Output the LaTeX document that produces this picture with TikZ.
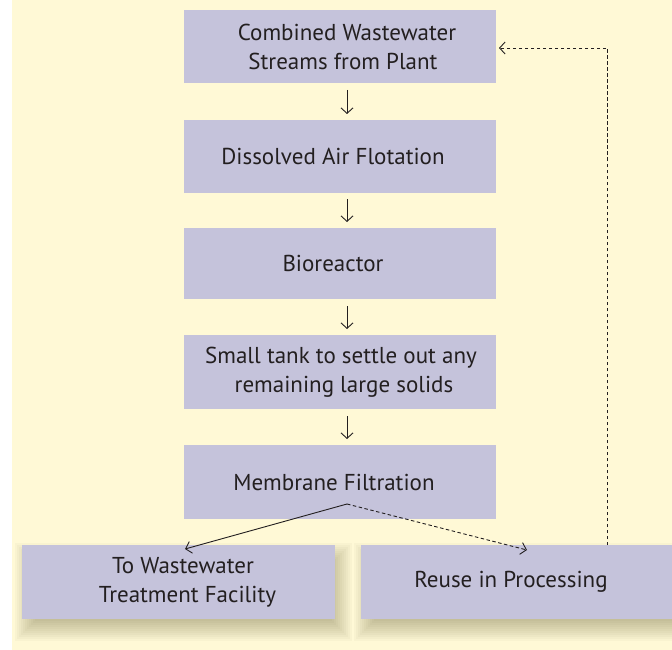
\documentclass[tikz,border=0pt]{standalone}
\usepackage{fontspec}
\setmainfont{PT Sans}
\usetikzlibrary{arrows.meta}
\pgfdeclarelayer{bg}
\pgfdeclarelayer{shadowlayer}
\pgfsetlayers{bg,shadowlayer,main}
\definecolor{bgyellow}{HTML}{FFF9D6}
\definecolor{boxfill}{HTML}{C5C3DB}
\definecolor{txt}{HTML}{231F20}
\definecolor{shadowc}{HTML}{4A4418}
\tikzset{
  procbox/.style={fill=boxfill, draw=none, text=txt, align=center, inner sep=0pt,
    font=\fontsize{23}{29}\selectfont},
  flow/.style={draw=txt, line width=0.9pt, -{Straight Barb[length=5.5pt,width=12pt]}},
  dflow/.style={flow, dash pattern=on 3.5pt off 2.5pt},
  shadowstep/.style={fill=shadowc, fill opacity=0.03, draw=none}
}
\newcommand{\softshadow}[1]{%
  \begin{pgfonlayer}{shadowlayer}
  \foreach \r in {12,10,...,-8}{
    \fill[shadowstep] ([shift={(5-\r,10-\r)}]#1.north west) rectangle ([shift={(5+\r,10+\r)}]#1.south east);
  }
  \end{pgfonlayer}}
\begin{document}
\begin{tikzpicture}[x=1pt,y=-1pt]
\useasboundingbox (0,0) rectangle (672,650);
\begin{pgfonlayer}{bg}
\fill[white] (0,0) rectangle (672,650);
\fill[bgyellow] (12,0) rectangle (672,650);
\end{pgfonlayer}
% boxes
\node[procbox, minimum width=312pt, minimum height=73pt] (b1) at (340,46.5) {\hspace*{14pt}Combined Wastewater\\ \hspace*{6pt}Streams from Plant};
\node[procbox, minimum width=312pt, minimum height=73pt] (b2) at (340,156.5) {\hspace*{-14pt}Dissolved Air Flotation};
\node[procbox, minimum width=312pt, minimum height=71pt] (b3) at (340,263.5) {\hspace*{-14pt}Bioreactor};
\node[procbox, minimum width=312pt, minimum height=74pt] (b4) at (340,372) {\hspace*{2pt}Small tank to settle out any\\ \hspace*{8pt}remaining large solids};
\node[procbox, minimum width=312pt, minimum height=74pt] (b5) at (340,482) {\hspace*{-12pt}Membrane Filtration};
\node[procbox, minimum width=313pt, minimum height=74pt] (b6) at (178.5,582) {\hspace*{9pt}To Wastewater\\ \hspace*{18pt}Treatment Facility};
\node[procbox, minimum width=320pt, minimum height=74pt] (b7) at (521,582) {\hspace*{-20pt}Reuse in Processing};
\softshadow{b6}
\softshadow{b7}
% coordinates
\coordinate (a1s) at (347,90); \coordinate (a1e) at (347,114);
\coordinate (a2s) at (347,199); \coordinate (a2e) at (347,222);
\coordinate (a3s) at (347,306); \coordinate (a3e) at (347,329);
\coordinate (a4s) at (347,416); \coordinate (a4e) at (347,439);
\coordinate (split) at (347,504);
\coordinate (t6) at (185,549);
\coordinate (t7) at (527,550);
\coordinate (r1) at (607,545);
\coordinate (r2) at (607,48);
\coordinate (t1) at (499,48);
\draw[flow] (a1s) -- (a1e);
\draw[flow] (a2s) -- (a2e);
\draw[flow] (a3s) -- (a3e);
\draw[flow] (a4s) -- (a4e);
\draw[flow] (split) -- (t6);
\draw[dflow] (split) -- (t7);
\draw[dflow] (r1) -- (r2) -- (t1);
\end{tikzpicture}
\end{document}
